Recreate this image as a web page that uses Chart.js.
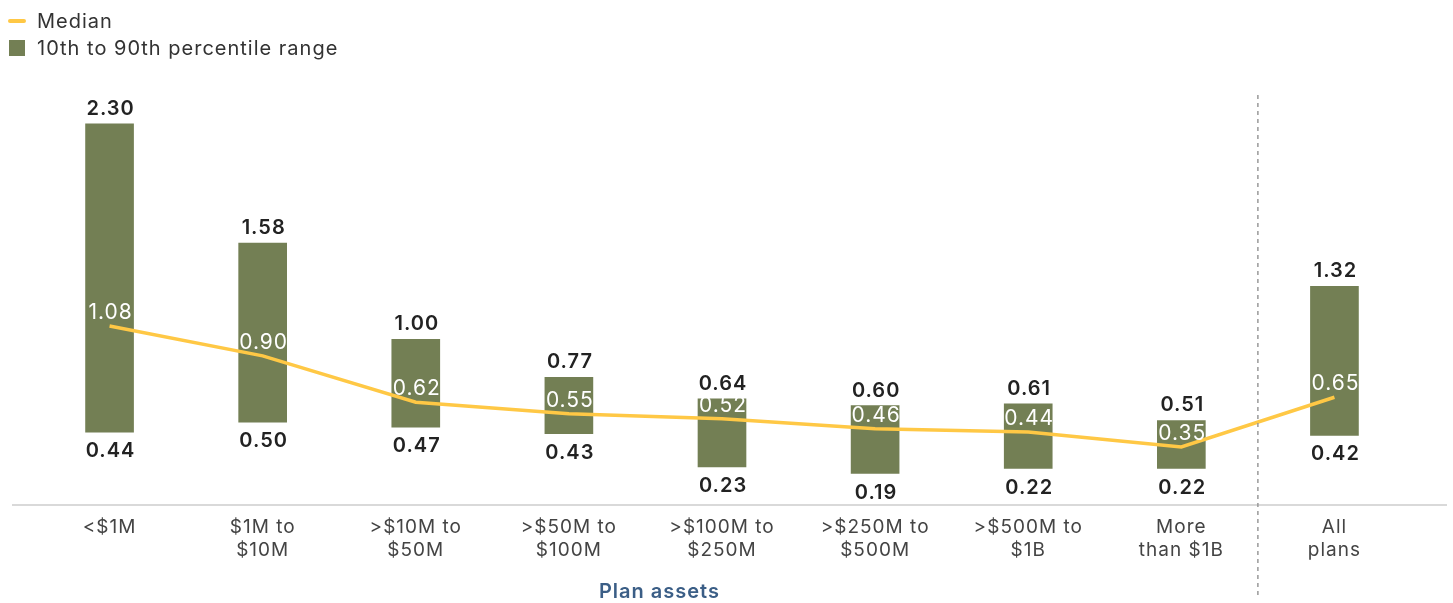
<!DOCTYPE html>
<html>
<head>
<meta charset="utf-8">
<script src="https://cdn.jsdelivr.net/npm/chart.js@4.4.1/dist/chart.umd.min.js"></script>
<style>
  body { margin: 0; background: #fff; font-family: Inter, "Noto Sans", sans-serif; }
  #wrap { position: relative; width: 1453px; height: 603px; }
  #legend { position: absolute; left: 8px; top: 7px; font-size: 20px; letter-spacing: 1px; color: #333; }
  .item { display: flex; align-items: center; height: 27px; }
  .line { width: 18px; height: 4px; border-radius: 2px; background: #FFC845; margin-right: 11px; }
  .box { width: 16px; height: 16px; background: #737F54; margin: 0 12px 0 1px; }
</style>
</head>
<body>
<div id="wrap">
  <canvas id="myChart" width="1453" height="603"></canvas>
  <div id="legend">
    <div class="item"><span class="line"></span>Median</div>
    <div class="item"><span class="box"></span>10th to 90th percentile range</div>
  </div>
</div>
<script>
const categories = [
    ['<$1M'], ['$1M to', '$10M'], ['>$10M to', '$50M'], ['>$50M to', '$100M'],
    ['>$100M to', '$250M'], ['>$250M to', '$500M'], ['>$500M to', '$1B'],
    ['More', 'than $1B'], ['All', 'plans']
];
const p10 = [0.44, 0.50, 0.47, 0.43, 0.23, 0.19, 0.22, 0.22, 0.42];
const p90 = [2.30, 1.58, 1.00, 0.77, 0.64, 0.60, 0.61, 0.51, 1.32];
const median = [1.08, 0.90, 0.62, 0.55, 0.52, 0.46, 0.44, 0.35, 0.65];

const barColor = '#737F54';
const lineColor = '#FFC845';
const fontFamily = 'Inter, "Noto Sans", sans-serif';

// rótulos das barras e da mediana, linha do eixo e separador
const extras = {
    id: 'extras',
    beforeDraw(chart) {
        chart.ctx.letterSpacing = '1px';
    },
    afterDatasetsDraw(chart) {
        const ctx = chart.ctx;
        const area = chart.chartArea;
        const x = chart.scales.x;
        ctx.save();
        ctx.letterSpacing = '1px';

        // linha de base
        ctx.strokeStyle = '#d9d9d9';
        ctx.lineWidth = 2;
        ctx.beginPath();
        ctx.moveTo(12, area.bottom);
        ctx.lineTo(1447, area.bottom);
        ctx.stroke();

        // separador tracejado antes de "All plans"
        const sepX = (x.getPixelForValue(7) + x.getPixelForValue(8)) / 2;
        ctx.strokeStyle = '#999';
        ctx.lineWidth = 1.5;
        ctx.setLineDash([4, 4]);
        ctx.beginPath();
        ctx.moveTo(sepX, 95);
        ctx.lineTo(sepX, 595);
        ctx.stroke();
        ctx.setLineDash([]);

        ctx.textAlign = 'center';
        ctx.font = '600 20px ' + fontFamily;
        ctx.fillStyle = '#222';
        chart.getDatasetMeta(1).data.forEach((bar, i) => {
            ctx.textBaseline = 'bottom';
            ctx.fillText(p90[i].toFixed(2), bar.x + 1, bar.y - 5);
            ctx.textBaseline = 'top';
            ctx.fillText(p10[i].toFixed(2), bar.x + 1, bar.base + 9);
        });

        ctx.font = '21px ' + fontFamily;
        ctx.fillStyle = '#fff';
        ctx.textBaseline = 'alphabetic';
        chart.getDatasetMeta(0).data.forEach((pt, i) => {
            ctx.fillText(median[i].toFixed(2), pt.x + 1, pt.y - 7);
        });

        // título do eixo
        ctx.font = '600 20px ' + fontFamily;
        ctx.fillStyle = '#3B5E86';
        ctx.textBaseline = 'middle';
        const cx = (x.getPixelForValue(0) + x.getPixelForValue(7)) / 2 + 14;
        ctx.fillText('Plan assets', cx, 592);
        ctx.restore();
    }
};

const ctx = document.getElementById('myChart').getContext('2d');
const myChart = new Chart(ctx, {
    data: {
        labels: categories,
        datasets: [
            {
                type: 'line',
                label: 'Median',
                data: median,
                borderColor: lineColor,
                borderWidth: 3.5,
                pointRadius: 0,
                tension: 0,
                order: 0
            },
            {
                type: 'bar',
                label: '10th to 90th percentile range',
                data: p10.map((v, i) => [v, p90[i]]),
                backgroundColor: barColor,
                barThickness: 48,
                order: 1
            }
        ]
    },
    options: {
        responsive: false,
        animation: false,
        layout: { padding: { left: 33, right: 42, top: 94 } },
        plugins: { legend: { display: false }, tooltip: { enabled: false } },
        scales: {
            x: {
                grid: { display: false, drawTicks: false },
                border: { display: false },
                ticks: {
                    color: '#444',
                    font: { family: fontFamily, size: 19, lineHeight: 1.2 },
                    padding: 11,
                    maxRotation: 0,
                    autoSkip: false
                },
                afterFit: s => { s.height = 98; }
            },
            y: {
                display: false,
                min: 0,
                max: 2.48
            }
        }
    },
    plugins: [extras]
});
</script>
</body>
</html>
